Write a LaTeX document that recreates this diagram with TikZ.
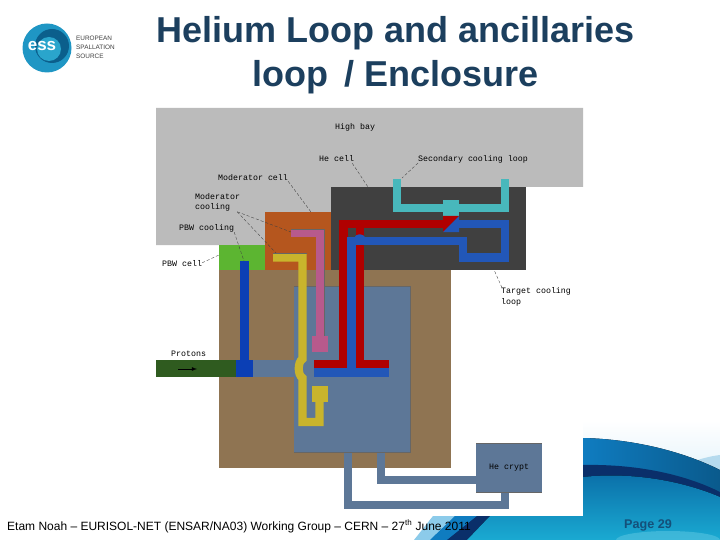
\documentclass[tikz,border=0pt]{standalone}
\usepackage{fontspec}
\setmainfont{Liberation Sans}
\setmonofont{Liberation Mono}
\definecolor{bayGrey}{HTML}{BBBBBB}
\definecolor{cellDark}{HTML}{404040}
\definecolor{modOrange}{HTML}{B5561E}
\definecolor{pbwGreen}{HTML}{5CB531}
\definecolor{shieldBrown}{HTML}{8F7452}
\definecolor{steelBlue}{HTML}{5D7797}
\definecolor{beamGreen}{HTML}{2F5B1F}
\definecolor{pbwBlue}{HTML}{0B3FB5}
\definecolor{modYellow}{HTML}{C9B42C}
\definecolor{modPink}{HTML}{B75A8C}
\definecolor{loopRed}{HTML}{B00000}
\definecolor{loopBlue}{HTML}{2257B8}
\definecolor{loopTeal}{HTML}{48B8BC}
\definecolor{titleBlue}{HTML}{1C3F5E}
\definecolor{pageBlue}{HTML}{14507A}
\definecolor{washBlue}{HTML}{E4F3FB}
\definecolor{patchBlue}{HTML}{B5DAEE}
\definecolor{swooshLight}{HTML}{8CCBEA}
\definecolor{swooshMid}{HTML}{0F7CC0}
\definecolor{swooshDark}{HTML}{0A5A8C}
\definecolor{swooshNavy}{HTML}{0A2F6A}
\definecolor{swooshTop}{HTML}{0A6EA8}
\definecolor{swooshLow}{HTML}{1AAAD2}
\definecolor{swooshGlow}{HTML}{55C3E0}
\definecolor{logoOuter}{HTML}{1F96C4}
\definecolor{logoDark}{HTML}{0B5F8C}
\definecolor{logoInner}{HTML}{2AA5CC}
\tikzset{
	pipe/.style={line width=8.2pt, line join=miter},
	tag/.style={font=\ttfamily\fontsize{8.3}{10.5}\selectfont, inner sep=0pt, anchor=west, align=left},
	leader/.style={draw=black!75, line width=0.35pt, densely dashed},
	edge/.style={draw=black!60, line width=0.45pt}
}
\begin{document}
\begin{tikzpicture}[x=1pt, y=-1pt]
	\useasboundingbox (0,0) rectangle (720,540);
	\fill[white] (0,0) rectangle (720,540);
	% background swoosh
	\fill[top color=white, bottom color=washBlue] (583,420) -- (720,420) -- (720,475) -- (583,440) -- cycle;
	\fill[patchBlue] (695,461) .. controls (703,458) and (712,456) .. (720,455) -- (720,475) -- cycle;
	\fill[swooshLight] (414,540) -- (433,516) -- (470,500) -- (470,540) -- cycle;
	\fill[swooshMid] (430,540) -- (455,516) -- (500,480) -- (583,438) -- (590,438) -- (590,540) -- cycle;
	\fill[left color=swooshMid, right color=swooshDark]
		(583,438) .. controls (630,439) and (680,450) .. (720,470) -- (720,540) -- (583,540) -- cycle;
	\fill[swooshNavy] (447,540) -- (477,516) -- (530,480) -- (583,465) .. controls (630,464) and (680,472) .. (720,492) -- (720,540) -- cycle;
	\fill[top color=swooshTop, bottom color=swooshLow]
		(467,540) -- (490,516) -- (540,490) -- (583,477) .. controls (630,472) and (680,480) .. (720,497) -- (720,540) -- cycle;
	\fill[swooshGlow, opacity=0.6] (668,540) ellipse (52 and 9);
	% logo
	\fill[logoOuter] (47,48) circle (24.5);
	\fill[logoDark] (52,46) circle (17);
	\fill[logoInner] (49,49) circle (12);
	\node[white, font=\bfseries\fontsize{17}{17}\selectfont, inner sep=0pt] (essmark) at (42,46.5) {ess};
	\node[black!75, font=\fontsize{6.4}{9.2}\selectfont, inner sep=0pt, anchor=west, align=left] (esstext) at (76,47.5) {EUROPEAN\\SPALLATION\\SOURCE};
	% title
	\node[titleBlue, font=\bfseries\fontsize{36}{43.5}\selectfont, align=center, inner sep=0pt] (title) at (395.5,55) {Helium Loop and ancillaries\\loop \,/ Enclosure};
	% panel and rooms
	\fill[white] (156,108) rectangle (583,516);
	\fill[bayGrey] (156,108) -- (583,108) -- (583,187) -- (331,187) -- (331,245) -- (156,245) -- cycle;
	\fill[cellDark] (331,187) rectangle (526,270);
	\fill[modOrange] (265,212) rectangle (331,270);
	\fill[pbwGreen] (219,245) rectangle (265,270);
	\fill[shieldBrown] (219,270) rectangle (451,468);
	\fill[steelBlue] (476,443) rectangle (542,492);
	\draw[steelBlue, pipe] (348,452) -- (348,505) -- (505,505) -- (505,492);
	\draw[steelBlue, pipe] (381,452) -- (381,480) -- (476,480);
	\fill[steelBlue] (294,286) rectangle (410,452);
	\draw[edge] (294,286) -- (410,286) -- (410,452) -- (294,452);
	\draw[edge] (476,443) -- (542,443) (476,492) -- (542,492);
	% beam
	\fill[beamGreen] (156,360) rectangle (236,377);
	\fill[pbwBlue] (236,360) rectangle (253,377);
	\fill[steelBlue] (253,360) rectangle (294,377);
	\draw[pbwBlue, pipe] (244.5,261) -- (244.5,362);
	\draw[-latex, black, line width=0.8pt] (178,369) -- (197,369);
	% moderator cooling
	\draw[modPink, pipe] (291,233) -- (320,233) -- (320,338);
	\fill[modPink] (312,336) rectangle (328,352);
	\draw[edge] (291,229) -- (324,229) -- (324,336);
	\draw[modYellow, pipe] (273,257.5) -- (302.5,257.5) -- (302.5,359) .. controls (297.5,362) and (297.5,375) .. (302.5,378) -- (302.5,422) -- (319.5,422) -- (319.5,400);
	\fill[modYellow] (312,386) rectangle (328,402);
	\draw[edge] (273,253.5) -- (306.5,253.5);
	% secondary loop
	\draw[loopTeal, pipe] (397,179) -- (397,208) -- (505,208) -- (505,179);
	\fill[loopTeal] (443,200) rectangle (459,216);
	% target loop
	\fill[loopBlue] (314,368) rectangle (389,377);
	\fill[loopRed] (314,360) rectangle (389,368);
	\draw[loopRed, pipe] (343.5,362) -- (343.5,224) -- (445,224);
	\fill[loopRed] (443,216) -- (459,216) -- (443,232) -- cycle;
	\draw[loopRed, pipe] (360,228) -- (360,236);
	\draw[loopRed, pipe, line cap=round] (360,246) -- (360,362);
	\draw[loopBlue, pipe] (351.5,370) -- (351.5,241) -- (463,241) -- (463,257.5) -- (505,257.5) -- (505,224) -- (457,224);
	\fill[loopBlue] (443,232) -- (459,216) -- (459,232) -- cycle;
	\fill[loopBlue] (459,220) rectangle (470,228);
	\fill[loopBlue] (354,238) .. controls (356,233) and (363,233) .. (366,238) -- cycle;
	% labels
	\foreach \name/\x/\y/\txt in {highbay/335/127/{High bay}, hecell/319/159/{He cell}, secloop/418/159/{Secondary cooling loop}, modcell/218/178/{Moderator cell}, modcool/195/202.5/{Moderator\\cooling}, pbwcool/179/228/{PBW cooling}, pbwcell/162/264/{PBW cell}, protons/171/353.5/{Protons}, tgtloop/501/297/{Target cooling\\loop}, hecrypt/489/468/{He crypt}} {
		\node[tag] (\name) at (\x,\y) {\txt};
	}
	% leaders
	\coordinate (hecellEnd) at (368,187);
	\coordinate (secloopEnd) at (402,178);
	\coordinate (modcellEnd) at (311,212);
	\coordinate (modPinkEnd) at (291,232);
	\coordinate (modYellowEnd) at (276,253);
	\coordinate (pbwcoolEnd) at (244,261);
	\coordinate (pbwcellEnd) at (219,255);
	\coordinate (tgtloopEnd) at (491,263);
	\draw[leader] (hecell.south east) ++(-2,1) -- (hecellEnd);
	\draw[leader] (secloop.south west) -- (secloopEnd);
	\draw[leader] (modcell.south east) -- (modcellEnd);
	\draw[leader] (modcool.south east) ++(-3,0) -- (modPinkEnd);
	\draw[leader] (modcool.south east) ++(-3,0) -- (modYellowEnd);
	\draw[leader] (pbwcool.south east) -- (pbwcoolEnd);
	\draw[leader] (pbwcell.north east) ++(0,2) -- (pbwcellEnd);
	\draw[leader] (tgtloop.north west) ++(1,0) -- (tgtloopEnd);
	% footer
	\node[black, font=\fontsize{12}{14}\selectfont, inner sep=0pt, anchor=base west] (footer) at (7,530) {Etam Noah – EURISOL-NET (ENSAR/NA03) Working Group – CERN – 27\textsuperscript{th} June 2011};
	\node[pageBlue, font=\bfseries\fontsize{12.6}{14}\selectfont, inner sep=0pt, anchor=base west] (pagenum) at (624,528) {Page 29};
\end{tikzpicture}
\end{document}
